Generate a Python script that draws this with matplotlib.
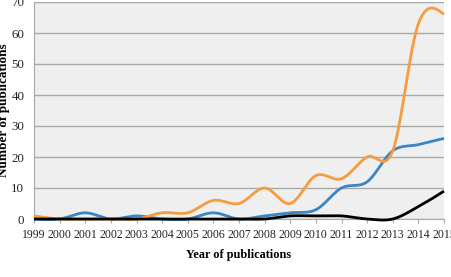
import numpy as np
import matplotlib
matplotlib.use("Agg")
import matplotlib.pyplot as plt

years = list(range(1999, 2016))
orange = [1, 0, 0, 0, 0, 2, 2, 6, 5, 10, 5, 14, 13, 20, 22, 63, 66]
blue = [0, 0, 2, 0, 1, 0, 0, 2, 0, 1, 2, 3, 10, 12, 22, 24, 26]
black = [0, 0, 0, 0, 0, 0, 0, 0, 0, 0, 1, 1, 1, 0, 0, 4, 9]
yticks = [0, 10, 20, 30, 40, 50, 60, 70]


def smooth(x, y, n=30):
    """Bezier smoothing of a line through the data points (Excel-style)."""
    P = np.column_stack([np.asarray(x, float), np.asarray(y, float)])
    m = len(P)
    xs, ys = [], []
    for i in range(m - 1):
        p0, p3 = P[i], P[i + 1]
        if 0 < i:
            c1 = p0 + (p3 - P[i - 1]) / 6.0
        else:
            c1 = None
        if i + 2 < m:
            c2 = p3 - (P[i + 2] - p0) / 6.0
        else:
            c2 = None
        if c1 is None and c2 is None:
            c1 = p0 + (p3 - p0) / 3.0
            c2 = p3 - (p3 - p0) / 3.0
        elif c1 is None:
            c1 = (p0 + c2) / 2.0
        elif c2 is None:
            c2 = (p3 + c1) / 2.0
        t = np.linspace(0, 1, n)[:, None]
        pts = ((1 - t) ** 3) * p0 + 3 * ((1 - t) ** 2) * t * c1 + 3 * (1 - t) * t ** 2 * c2 + t ** 3 * p3
        xs.extend(pts[:, 0])
        ys.extend(pts[:, 1])
    return np.array(xs), np.array(ys)


fig = plt.figure(figsize=(4.51, 2.77), dpi=100)
ax = fig.add_axes([34 / 451, 1 - 219 / 277, (444 - 34) / 451, 217 / 277])
ax.set_facecolor("#EFEFEF")

for vals, col in [(blue, "#3A85C2"), (orange, "#F79B3F"), (black, "#000000")]:
    sx, sy = smooth(years, vals)
    ax.plot(sx, sy, color=col, lw=2.0, solid_capstyle="butt", zorder=3, clip_on=False)

ax.set_xlim(1999, 2015)
ax.set_ylim(0, 70)
ax.set_yticks(yticks)
ax.set_xticks(years)
ax.set_xticklabels([str(y) for y in years])
ax.grid(axis="y", color="#A8A8A8", lw=1.0)
ax.set_axisbelow(True)
for s in ["top", "right"]:
    ax.spines[s].set_visible(False)
ax.spines["left"].set_color("#A8A8A8")
ax.spines["bottom"].set_color("#A8A8A8")
ax.tick_params(axis="y", length=0, pad=7)
ax.tick_params(axis="x", length=3, color="#A8A8A8", pad=4, direction="out")
for lab in ax.get_xticklabels():
    lab.set_fontfamily("Liberation Serif")
    lab.set_fontsize(8.5)
    lab.set_color("#222222")
for lab in ax.get_yticklabels():
    lab.set_fontfamily("Liberation Serif")
    lab.set_fontsize(9.3)
    lab.set_color("#222222")

ax.set_xlabel("Year of publications", fontfamily="Liberation Serif", fontweight="bold",
              fontsize=8.8, labelpad=6)
ax.set_ylabel("Number of publications", fontfamily="Liberation Serif", fontweight="bold",
              fontsize=9.5)
ax.yaxis.set_label_coords(-0.058, 0.5)

fig.savefig("out.png", dpi=100)
